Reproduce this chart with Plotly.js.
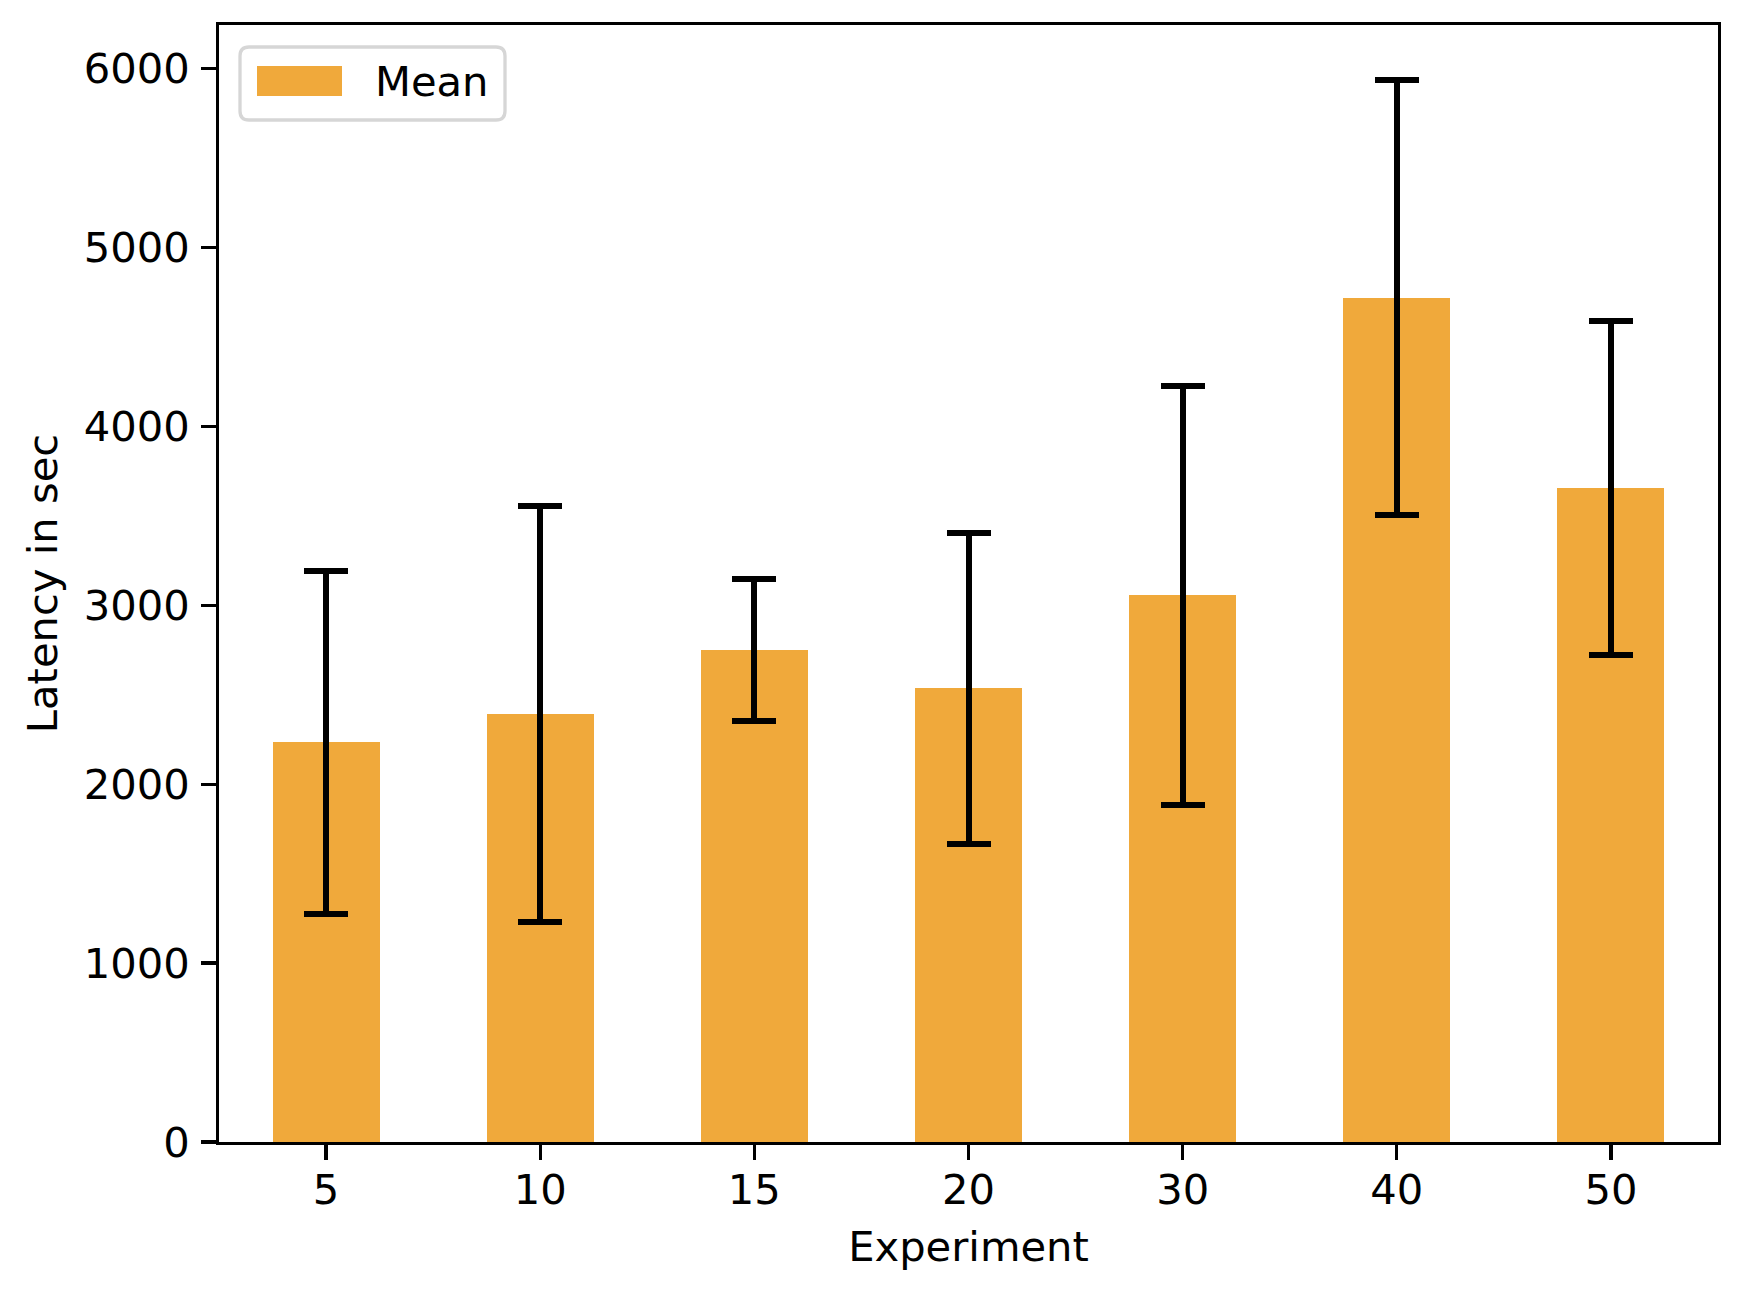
<!DOCTYPE html>
<html>
<head>
<meta charset="utf-8">
<script src="https://cdn.plot.ly/plotly-3.0.1.min.js"></script>
<style>html,body{margin:0;padding:0;background:#fff;}#chart{width:1746px;height:1300px;}</style>
</head>
<body>
<div id="chart"></div>
<script>
const experiments = ["5", "10", "15", "20", "30", "40", "50"];
const meanLatency = [2235, 2390, 2750, 2535, 3055, 4720, 3655];
const errLatency = [958, 1162, 395, 870, 1170, 1213, 933];
const seriesName = "Mean";

const W = 1746, H = 1300;
const mL = 219, mR = 28, mT = 25, mB = 158;
const pw = W - mL - mR, ph = H - mT - mB;
const px = v => (v - mL) / pw;
const py = v => (H - mB - v) / ph;

function roundRect(x0, y0, x1, y1, r) {
  const rx = r / pw, ry = r / ph;
  const X0 = px(x0), X1 = px(x1), Y0 = py(y1), Y1 = py(y0);
  return `M ${X0 + rx},${Y0} L ${X1 - rx},${Y0} Q ${X1},${Y0} ${X1},${Y0 + ry} ` +
         `L ${X1},${Y1 - ry} Q ${X1},${Y1} ${X1 - rx},${Y1} L ${X0 + rx},${Y1} ` +
         `Q ${X0},${Y1} ${X0},${Y1 - ry} L ${X0},${Y0 + ry} Q ${X0},${Y0} ${X0 + rx},${Y0} Z`;
}

const barColor = "#f0a93b";
const fontFam = "DejaVu Sans, sans-serif";
const fs = 41.67;

const trace = {
  type: "bar",
  x: experiments,
  y: meanLatency,
  name: seriesName,
  width: 0.5,
  marker: {color: barColor, line: {width: 0}},
  error_y: {type: "data", array: errLatency, visible: true, color: "#000", thickness: 6, width: 22},
  showlegend: false
};

const layout = {
  width: W, height: H,
  margin: {l: mL, r: mR, t: mT, b: mB, pad: 0},
  paper_bgcolor: "#fff", plot_bgcolor: "#fff",
  font: {family: fontFam, size: fs, color: "#000"},
  bargap: 0,
  xaxis: {
    type: "category",
    range: [-0.5, 6.5],
    showline: true, linecolor: "#000", linewidth: 3.3, mirror: true,
    ticks: "outside", ticklen: 14.6, tickwidth: 3.3, tickcolor: "#000",
    ticklabelstandoff: -6,
    showgrid: false, zeroline: false,
    tickfont: {family: fontFam, size: fs, color: "#000"},
    title: {text: "Experiment", font: {family: fontFam, size: fs, color: "#000"}, standoff: 20},
    automargin: false
  },
  yaxis: {
    range: [0, 6243],
    tickmode: "array",
    tickvals: [0, 1000, 2000, 3000, 4000, 5000, 6000],
    ticktext: ["0", "1000", "2000", "3000", "4000", "5000", "6000"],
    showline: true, linecolor: "#000", linewidth: 3.3, mirror: true,
    ticks: "outside", ticklen: 14.6, tickwidth: 3.3, tickcolor: "#000",
    ticklabelstandoff: 3,
    showgrid: false, zeroline: false,
    tickfont: {family: fontFam, size: fs, color: "#000"},
    title: {text: "Latency in sec", font: {family: fontFam, size: fs, color: "#000"}, standoff: 14},
    automargin: false
  },
  shapes: [
    {type: "path", xref: "paper", yref: "paper", path: roundRect(240, 47, 505, 120, 9),
     line: {color: "#d6d6d6", width: 3.3}, fillcolor: "rgba(255,255,255,0.8)", layer: "above"},
    {type: "rect", xref: "paper", yref: "paper", x0: px(257), x1: px(342), y0: py(96), y1: py(66),
     line: {width: 0}, fillcolor: barColor, layer: "above"}
  ],
  annotations: [
    {xref: "paper", yref: "paper", x: px(373), y: py(82), xanchor: "left", yanchor: "middle",
     text: seriesName, showarrow: false, font: {family: fontFam, size: fs, color: "#000"}}
  ]
};

Plotly.newPlot("chart", [trace], layout, {displayModeBar: false, staticPlot: true});
</script>
</body>
</html>
